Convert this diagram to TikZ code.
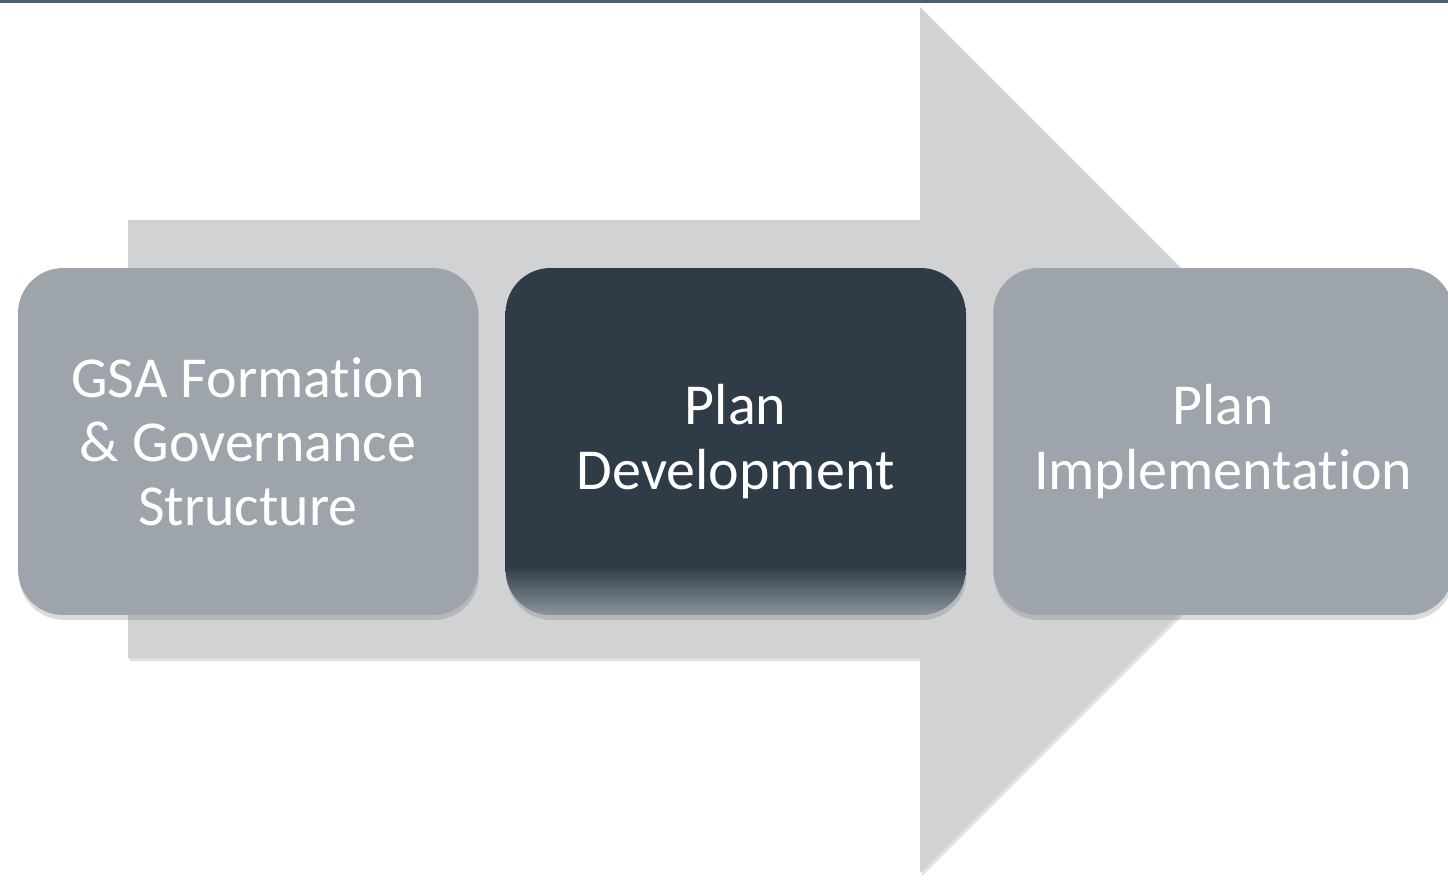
\documentclass[tikz,border=0pt]{standalone}
\usepackage{fontspec}
\setmainfont{Carlito}[Ligatures=NoCommon]
\usetikzlibrary{positioning,shadows}

\definecolor{barcolor}{HTML}{4F5E6B}
\definecolor{arrowgray}{HTML}{D1D2D4}
\definecolor{stepgray}{HTML}{9EA4AB}
\definecolor{devdark}{HTML}{2F3B46}
\definecolor{devlight}{HTML}{8C959D}

\pgfdeclareverticalshading{devshade}{100bp}{color(0bp)=(devlight); color(25bp)=(devlight); color(32bp)=(devdark); color(100bp)=(devdark)}

\begin{document}
\begin{tikzpicture}[x=0.02cm, y=-0.02cm,
    node distance=0.54cm,
    stepbox/.style={rectangle, rounded corners=0.9cm, fill=stepgray, minimum width=9.2cm, minimum height=6.94cm, inner sep=0pt, text=white, align=center, font=\fontsize{33}{36.5}\selectfont, drop shadow={shadow xshift=0.02cm, shadow yshift=-0.1cm, opacity=0.2, fill=black!70}},
    current/.style={shading=devshade},
    bigarrow/.style={fill=arrowgray, drop shadow={shadow xshift=0.04cm, shadow yshift=-0.06cm, opacity=0.2, fill=black!60}}]

    \useasboundingbox (0,0) rectangle (1448,883);

    % Top bar
    \fill [barcolor] (0,0) rectangle (1448,3);

    % Background arrow
    \path [bigarrow] (128,220) -- (920,220) -- (920,7) -- (1353,440) -- (920,873) -- (920,658) -- (128,658) -- cycle;

    % Steps
    \node [stepbox] (formation) at (248,441.5) {GSA Formation\\\& Governance\\Structure};
    \node [stepbox, current, right=of formation] (development) {Plan\\Development};
    \node [stepbox, right=of development] (implementation) {Plan\\Implementation};

\end{tikzpicture}
\end{document}
